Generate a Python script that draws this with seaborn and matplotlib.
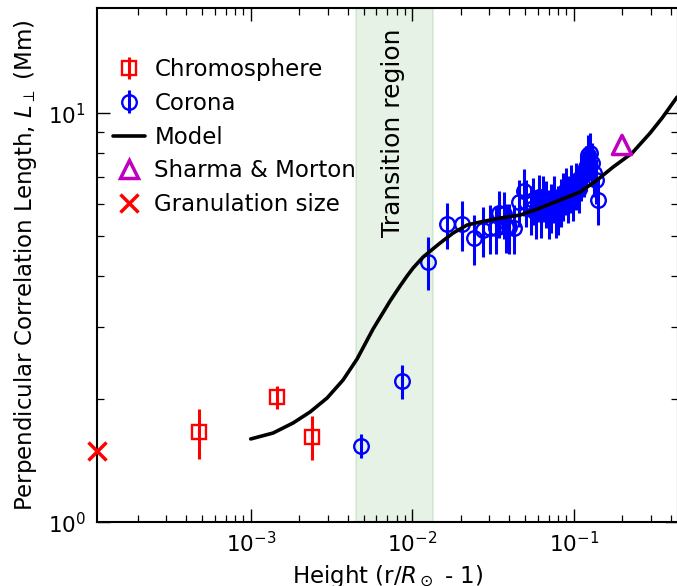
import numpy as np
import pandas as pd
import matplotlib
matplotlib.use("Agg")
import matplotlib.pyplot as plt
from matplotlib.lines import Line2D
from matplotlib.container import ErrorbarContainer
import seaborn as sns

# Chromospheric correlation lengths (height in solar radii above the surface, Mm)
chrom_height = [4.77e-4, 1.46e-3, 2.41e-3]
chrom_length = [1.66, 2.02, 1.62]
chrom_err = [0.23, 0.13, 0.20]

# Coronal correlation lengths
corona_height = [
    4.84e-3, 8.67e-3, 0.01256, 0.01633, 0.0202, 0.0242, 0.0274, 0.0302,
    0.0329, 0.0344, 0.0369, 0.0380, 0.0396, 0.0426, 0.0457, 0.0491,
    0.0506, 0.0543, 0.0558, 0.0583, 0.0608, 0.0630, 0.0644, 0.0673,
    0.0703, 0.0723, 0.0755, 0.0776, 0.0800, 0.0834, 0.0859, 0.0895,
    0.0923, 0.0962, 0.0991, 0.1033, 0.1079, 0.1109, 0.1159, 0.1191,
    0.1227, 0.1262, 0.1300, 0.1337, 0.1374, 0.1416,
]
corona_length = [
    1.54, 2.21, 4.34, 5.35, 5.35, 4.95, 5.18, 5.24,
    5.24, 5.71, 5.67, 5.27, 5.27, 5.24, 6.07, 6.45,
    6.07, 5.85, 6.14, 5.70, 6.24, 5.75, 6.21, 6.03,
    5.70, 5.90, 6.21, 5.75, 5.85, 6.10, 6.30, 6.49,
    6.20, 6.60, 6.30, 6.70, 6.55, 6.99, 7.15, 7.39,
    7.91, 8.00, 7.56, 7.15, 6.87, 6.14,
]
corona_err = [
    0.10, 0.21, 0.64, 0.70, 0.75, 0.70, 0.72, 0.72,
    0.70, 0.75, 0.75, 0.72, 0.75, 0.72, 0.80, 0.85,
    0.80, 0.80, 0.80, 0.78, 0.82, 0.78, 0.80, 0.80,
    0.78, 0.80, 0.82, 0.78, 0.80, 0.82, 0.85, 0.85,
    0.82, 0.88, 0.85, 0.88, 0.85, 0.90, 0.92, 0.92,
    0.95, 0.95, 0.92, 0.90, 0.88, 0.80,
]

# Model prediction
model_height = [
    1.000e-3, 1.374e-3, 1.827e-3, 2.329e-3, 2.968e-3, 3.728e-3, 4.550e-3,
    5.718e-3, 7.288e-3, 8.403e-3, 9.285e-3, 0.01012, 0.01167, 0.01486,
    0.01789, 0.02184, 0.02629, 0.03497, 0.04650, 0.06184, 0.08228, 0.1094,
    0.1394, 0.1751, 0.2296, 0.2969, 0.3521, 0.4361,
]
model_length = [
    1.599, 1.653, 1.749, 1.861, 2.013, 2.228, 2.507,
    2.969, 3.476, 3.783, 4.002, 4.186, 4.453, 4.818,
    5.097, 5.332, 5.423, 5.546, 5.640, 5.868, 6.138, 6.421,
    6.869, 7.390, 7.995, 8.950, 9.739, 10.96,
]

# Single reference values
sharma_height = [0.199]
sharma_length = [8.37]
granulation_height = [1.117e-4]
granulation_length = [1.49]

transition_region = (4.5e-3, 1.35e-2)

sns.set_style("ticks")
plt.rcParams["font.family"] = ["DejaVu Sans"]
for key in ("text.color", "axes.labelcolor", "xtick.color", "ytick.color",
            "axes.edgecolor"):
    plt.rcParams[key] = "black"

fig = plt.figure(figsize=(6.77, 5.86), dpi=100)
ax = fig.add_axes([97 / 677, 1 - 522.3 / 586, 581 / 677, 514.3 / 586])

ax.axvspan(*transition_region, color="green", alpha=0.1, lw=1.5, zorder=0)
ax.text(7.65e-3, 8.95, "Transition region", rotation=90, ha="center",
        va="center", fontsize=18)

err_kw = dict(ls="none", mfc="none", capsize=0, elinewidth=2.2, mew=1.7,
              ms=10.5)
ax.errorbar(chrom_height, chrom_length, yerr=chrom_err, marker="s",
            color="red", zorder=3, **err_kw)
ax.errorbar(corona_height, corona_length, yerr=corona_err, marker="o",
            color="blue", zorder=3, **err_kw)

model_df = pd.DataFrame({"height": model_height, "length": model_length})
sns.lineplot(data=model_df, x="height", y="length", color="black", lw=2.6,
             ax=ax, zorder=4, sort=False)

sns.scatterplot(x=sharma_height, y=sharma_length, marker="^", s=190,
                facecolors="none", edgecolors="#bf00bf", linewidths=2.5,
                ax=ax, zorder=5)
ax.plot(granulation_height, granulation_length, ls="none", marker="x",
        color="red", ms=13, mew=2.5, clip_on=False, zorder=5)

ax.set_xscale("log")
ax.set_yscale("log")
ax.set_xlim(1.117e-4, 0.442)
ax.set_ylim(1.0, 18.1)

ax.tick_params(which="both", direction="in", top=True, right=True,
               labelsize=15.5, color="black")
ax.tick_params(which="major", length=9.5, width=1.0)
ax.tick_params(which="minor", length=5, width=0.9)
ax.tick_params(axis="x", which="major", pad=6)
ax.tick_params(axis="y", which="major", pad=8)
for side in ax.spines.values():
    side.set_linewidth(1.5)
    side.set_color("black")

ax.set_xlabel(r"Height (r/$R_\odot$ - 1)", fontsize=16.5, labelpad=5)
ax.set_ylabel(r"Perpendicular Correlation Length, $L_\perp$ (Mm)",
              fontsize=16.5, labelpad=6)

labels = ["Chromosphere", "Corona", "Model", "Sharma & Morton",
          "Granulation size"]
eb_handles = [c for c in ax.containers if isinstance(c, ErrorbarContainer)]
handles = [
    eb_handles[0],
    eb_handles[1],
    Line2D([], [], color="black", lw=2.6),
    Line2D([], [], ls="none", marker="^", mfc="none", mec="#bf00bf", mew=2.5,
           ms=13),
    Line2D([], [], ls="none", marker="x", color="red", mew=2.5, ms=13),
]
ax.legend(handles, labels, loc="upper left", bbox_to_anchor=(0.0, 0.934),
          frameon=False, fontsize=16.5, handlelength=1.4, handletextpad=0.4,
          labelspacing=0.47, borderaxespad=0.3)

fig.savefig("out.png", dpi=100)
